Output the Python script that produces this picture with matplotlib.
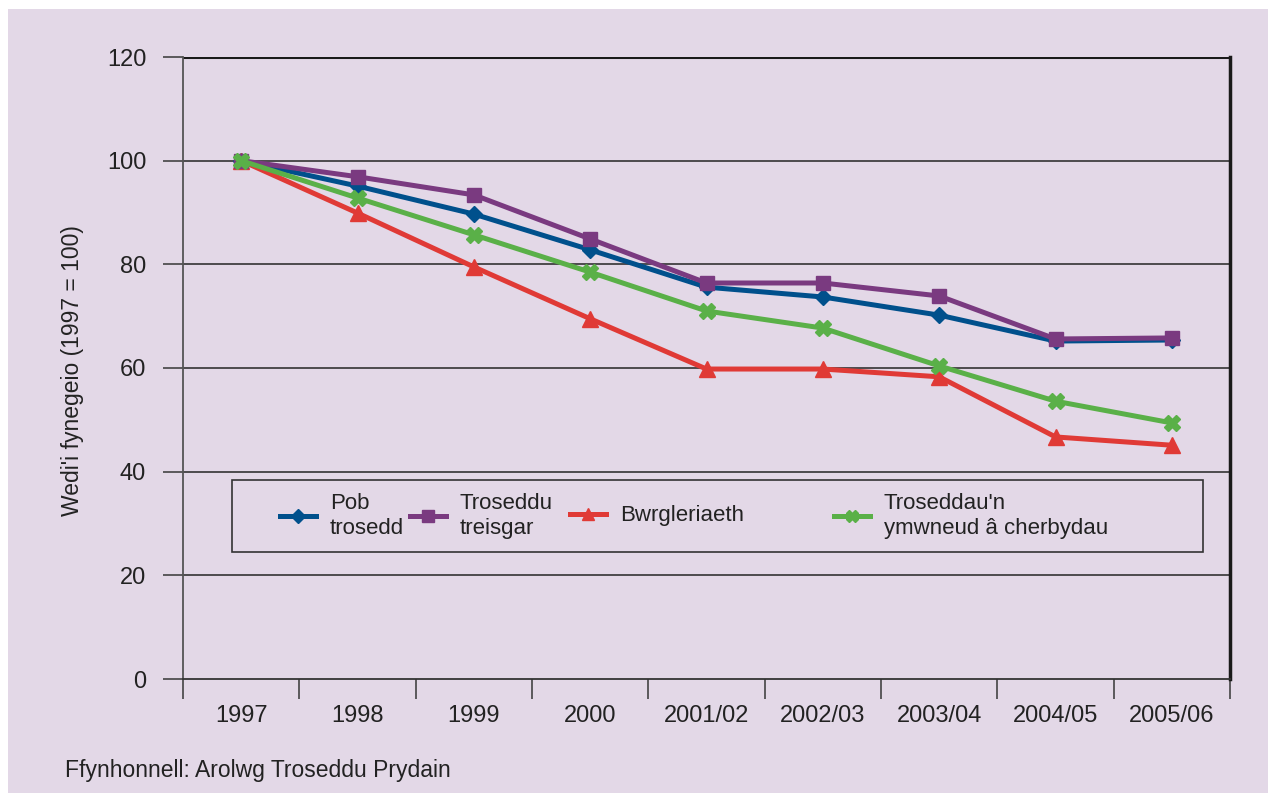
import matplotlib
matplotlib.use("Agg")
import matplotlib.pyplot as plt
from matplotlib.patches import Rectangle

years = ['1997', '1998', '1999', '2000', '2001/02', '2002/03', '2003/04', '2004/05', '2005/06']
pob_trosedd = [100, 95.1, 89.7, 82.8, 75.6, 73.7, 70.2, 65.2, 65.4]
treisgar = [100, 96.9, 93.4, 84.9, 76.4, 76.4, 73.9, 65.6, 65.8]
bwrgleriaeth = [100, 89.9, 79.5, 69.5, 59.8, 59.8, 58.3, 46.7, 45.1]
cerbydau = [100, 92.8, 85.7, 78.5, 71.0, 67.7, 60.4, 53.6, 49.4]
labels = ['Pob\ntrosedd', 'Troseddu\ntreisgar', 'Bwrgleriaeth', "Troseddau'n\nymwneud â cherbydau"]

bg = '#e3d8e7'
txt = '#222222'
plt.rcParams['font.family'] = ['Liberation Sans', 'DejaVu Sans']

W, H = 1268, 793
fig = plt.figure(figsize=(W / 100, H / 100), dpi=100, facecolor='white')
fig.patches.append(Rectangle((8 / W, 0), 1 - 8 / W, 1 - 9 / H, transform=fig.transFigure,
                             facecolor=bg, edgecolor='none', zorder=-10))

ax = fig.add_axes([183 / W, (H - 679) / H, 1047 / W, 622 / H])
ax.set_facecolor(bg)
x = list(range(len(years)))

ax.plot(x, pob_trosedd, color='#00508c', lw=3.6, marker='D', ms=8, label=labels[0], zorder=3)
ax.plot(x, treisgar, color='#7a3a80', lw=3.6, marker='s', ms=10, label=labels[1], zorder=4)
ax.plot(x, bwrgleriaeth, color='#e03a36', lw=3.6, marker='^', ms=11, label=labels[2], zorder=3)
ax.plot(x, cerbydau, color='#5ab048', lw=3.6, marker='X', ms=11, label=labels[3], zorder=5)

ax.set_xlim(-0.5, len(years) - 0.5)
ax.set_ylim(0, 120)
ax.set_yticks(range(0, 121, 20))
for v in range(20, 101, 20):
    ax.axhline(v, color='#333333', lw=1.2, zorder=1)
ax.axhline(120, color='#1a1a1a', lw=2.2, zorder=1)

ax.set_xticks(x)
ax.set_xticklabels(years)
ax.set_xticks([i - 0.5 for i in range(len(years) + 1)], minor=True)
ax.tick_params(axis='x', which='major', length=0, pad=19, labelsize=17, labelcolor=txt)
ax.tick_params(axis='x', which='minor', length=14.5, width=1.2, color='#444444', direction='out')
ax.tick_params(axis='y', length=14.5, width=1.2, color='#444444', pad=12, labelsize=17, labelcolor=txt)

ax.spines['top'].set_visible(False)
ax.spines['left'].set_color('#555555')
ax.spines['left'].set_linewidth(1.3)
ax.spines['bottom'].set_color('#333333')
ax.spines['bottom'].set_linewidth(1.3)
ax.spines['right'].set_color('#1a1a1a')
ax.spines['right'].set_linewidth(2.5)

# legend box, one entry per column at its own spot
fig.patches.append(Rectangle((232 / W, (H - 552) / H), 971 / W, 72 / H, transform=fig.transFigure,
                             facecolor=bg, edgecolor='#333333', lw=1.2, zorder=2))
handles, labs = ax.get_legend_handles_labels()
for h, l, px in zip(handles, labs, [280, 410, 570, 834]):
    leg = fig.legend([h], [l], loc='center left', bbox_to_anchor=(px / W, (H - 516) / H),
                     frameon=False, fontsize=16, handlelength=1.6, handletextpad=0.65,
                     borderpad=0, borderaxespad=0, markerscale=0.85)
    leg.set_zorder(3)
    for t in leg.get_texts():
        t.set_color(txt)
        t.set_linespacing(1.3)
        t.set_multialignment('left')

fig.text(73 / W, 1 - 371 / H, "Wedi'i fynegeio (1997 = 100)", rotation=90, ha='center', va='center',
         fontsize=16.5, color=txt)
fig.text(65 / W, 1 - 771 / H, 'Ffynhonnell: Arolwg Troseddu Prydain', ha='left', va='center',
         fontsize=16.5, color=txt)

fig.savefig('out.png', dpi=100, facecolor=fig.get_facecolor())
